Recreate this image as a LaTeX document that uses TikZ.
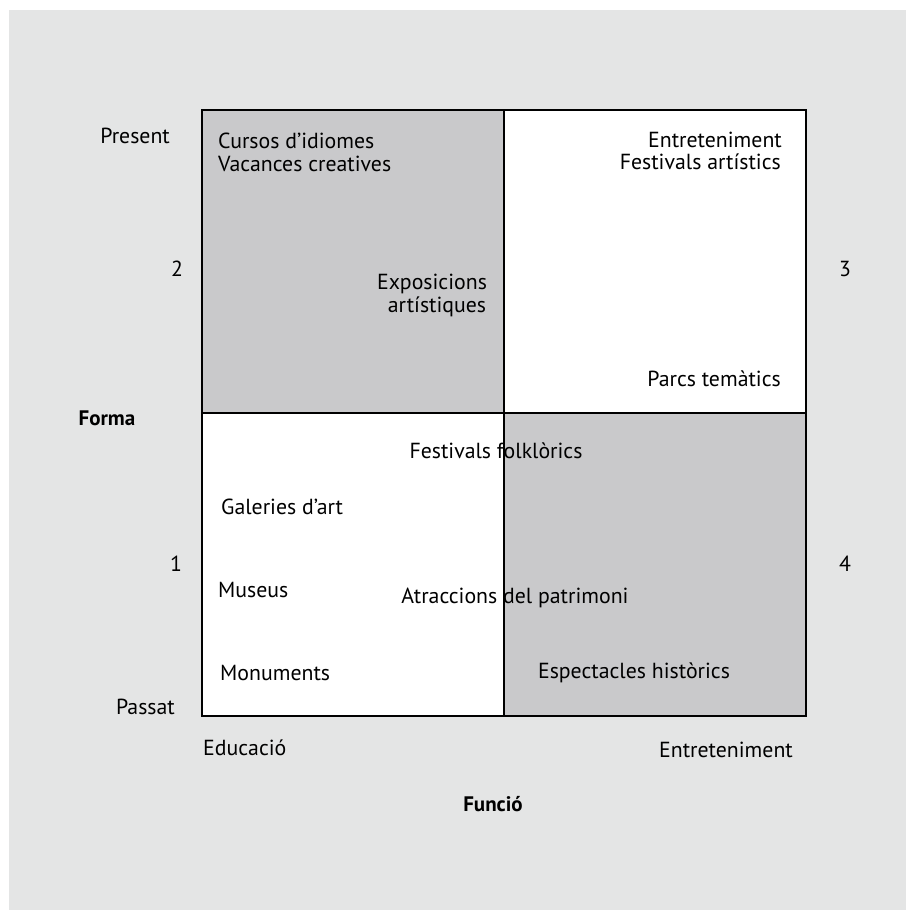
\documentclass[tikz,border=0pt]{standalone}
\usepackage{fontspec}
\setmainfont{PT Sans}
\definecolor{bgc}{HTML}{E4E5E5}
\definecolor{cellgray}{HTML}{C9C9CB}
\begin{document}
\begin{tikzpicture}[x=1pt,y=-1pt,
  lbl/.style={inner sep=0pt, font=\fontsize{21.8}{24}\selectfont, anchor=base},
  lblw/.style={lbl, anchor=base west},
  lble/.style={lbl, anchor=base east},
  bold/.style={font=\fontsize{21}{24}\selectfont\bfseries},
  grid/.style={line width=2.2pt}]
\useasboundingbox (0,0) rectangle (906,910);
\fill[white] (0,0) rectangle (906,910);
\fill[bgc] (9,10) rectangle (906,910);
% cells
\fill[cellgray] (202,110) rectangle (504,413);
\fill[white] (504,110) rectangle (806,413);
\fill[white] (202,413) rectangle (504,716);
\fill[cellgray] (504,413) rectangle (806,716);
\coordinate (tl) at (202,110);
\coordinate (br) at (806,716);
\coordinate (tm) at (504,110);
\coordinate (bm) at (504,716);
\coordinate (lm) at (202,413);
\coordinate (rm) at (806,413);
\draw[grid] (tl) rectangle (br);
\draw[grid] (tm) -- (bm);
\draw[grid] (lm) -- (rm);
% axis labels
\node[lble] (present) at (170,143) {Present};
\node[lble] (passat) at (175,714) {Passat};
\node[lbl] (n2) at (177,276) {2};
\node[lbl] (n3) at (845,276) {3};
\node[lbl] (n1) at (176,571) {1};
\node[lbl] (n4) at (845,571) {4};
\node[lbl,bold,anchor=base] (forma) at (107,425) {Forma};
\node[lblw] (educ) at (203,755) {Educació};
\node[lble] (entb) at (793,757) {Entreteniment};
\node[lbl,bold,anchor=base] (funcio) at (493,811) {Funció};
% quadrant texts
\node[lblw] (cursos) at (218,148) {Cursos d’idiomes};
\node[lblw] (vac) at (218,171) {Vacances creatives};
\node[lble] (entt) at (782,147) {Entreteniment};
\node[lble] (fart) at (781,169) {Festivals artístics};
\node[lbl] (expo) at (432,289) {Exposicions};
\node[lbl] (expo2) at (437,312) {artístiques};
\node[lble] (parcs) at (781,386) {Parcs temàtics};
\node[lbl] (ffolk) at (496,458) {Festivals folklòrics};
\node[lblw] (gal) at (221,514) {Galeries d’art};
\node[lblw] (mus) at (218,597) {Museus};
\node[lbl] (atr) at (515,603) {Atraccions del patrimoni};
\node[lblw] (mon) at (220,680) {Monuments};
\node[lbl] (esp) at (634,678) {Espectacles històrics};
\end{tikzpicture}
\end{document}
